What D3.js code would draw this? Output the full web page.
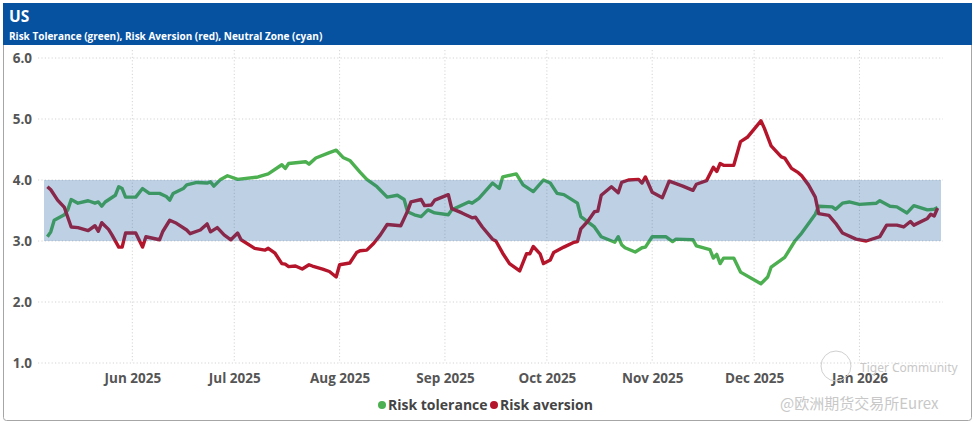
<!DOCTYPE html>
<html><head><meta charset="utf-8">
<script src="https://cdn.jsdelivr.net/npm/d3@7"></script>
<style>body{margin:0;background:#fff}svg{display:block}</style>
</head><body>
<svg id="chart" width="975" height="424"></svg>
<script>
const title = "US";
const subtitle = "Risk Tolerance (green), Risk Aversion (red), Neutral Zone (cyan)";
const seriesNames = ["Risk tolerance", "Risk aversion"];
const neutralZone = [3.0, 4.0];
const yTicks = [1, 2, 3, 4, 5, 6];
const xTicks = ["2025-06-01","2025-07-01","2025-08-01","2025-09-01","2025-10-01","2025-11-01","2025-12-01","2026-01-01"];
const xDomain = ["2025-05-06", "2026-01-25"];

const riskTolerance = [
["2025-05-07",3.07],["2025-05-08",3.15],["2025-05-09",3.34],["2025-05-12",3.43],["2025-05-13",3.51],
["2025-05-14",3.68],["2025-05-16",3.62],["2025-05-19",3.66],["2025-05-21",3.62],["2025-05-22",3.64],
["2025-05-23",3.57],["2025-05-24",3.64],["2025-05-27",3.75],["2025-05-28",3.89],["2025-05-29",3.86],
["2025-05-30",3.72],["2025-06-02",3.72],["2025-06-04",3.86],["2025-06-06",3.78],["2025-06-09",3.78],
["2025-06-11",3.73],["2025-06-12",3.67],["2025-06-13",3.78],["2025-06-16",3.86],["2025-06-17",3.92],
["2025-06-20",3.96],["2025-06-23",3.95],["2025-06-24",3.97],["2025-06-25",3.90],["2025-06-27",4.01],
["2025-06-29",4.07],["2025-07-02",4.01],["2025-07-08",4.05],["2025-07-11",4.10],["2025-07-15",4.25],
["2025-07-16",4.19],["2025-07-17",4.27],["2025-07-22",4.30],["2025-07-23",4.26],["2025-07-25",4.36],
["2025-07-29",4.45],["2025-07-31",4.49],["2025-08-02",4.37],["2025-08-04",4.32],["2025-08-07",4.13],
["2025-08-09",4.01],["2025-08-12",3.89],["2025-08-15",3.72],["2025-08-18",3.75],["2025-08-20",3.68],
["2025-08-21",3.48],["2025-08-23",3.43],["2025-08-25",3.40],["2025-08-27",3.51],["2025-08-29",3.46],
["2025-09-02",3.43],["2025-09-03",3.51],["2025-09-08",3.64],["2025-09-09",3.62],["2025-09-11",3.70],
["2025-09-15",3.95],["2025-09-17",3.86],["2025-09-18",4.05],["2025-09-22",4.10],["2025-09-24",3.92],
["2025-09-27",3.81],["2025-09-30",4.00],["2025-10-02",3.95],["2025-10-04",3.78],["2025-10-06",3.76],
["2025-10-08",3.69],["2025-10-10",3.62],["2025-10-11",3.40],["2025-10-15",3.23],["2025-10-17",3.07],
["2025-10-21",2.98],["2025-10-22",3.07],["2025-10-23",2.94],["2025-10-24",2.89],["2025-10-27",2.82],
["2025-10-29",2.89],["2025-10-30",2.90],["2025-11-01",3.07],["2025-11-05",3.07],["2025-11-07",2.99],
["2025-11-08",3.03],["2025-11-13",3.02],["2025-11-14",2.92],["2025-11-18",2.86],["2025-11-19",2.72],
["2025-11-20",2.78],["2025-11-21",2.63],["2025-11-22",2.72],["2025-11-25",2.72],["2025-11-27",2.49],
["2025-12-03",2.30],["2025-12-05",2.41],["2025-12-06",2.57],["2025-12-10",2.73],["2025-12-13",3.00],
["2025-12-15",3.13],["2025-12-19",3.44],["2025-12-20",3.57],["2025-12-24",3.56],["2025-12-25",3.52],
["2025-12-27",3.62],["2025-12-29",3.64],["2026-01-01",3.60],["2026-01-06",3.62],["2026-01-07",3.66],
["2026-01-10",3.57],["2026-01-12",3.56],["2026-01-15",3.46],["2026-01-17",3.58],["2026-01-21",3.51],
["2026-01-23",3.52],["2026-01-24",3.55]
];

const riskAversion = [
["2025-05-07",3.89],["2025-05-08",3.84],["2025-05-10",3.67],["2025-05-12",3.55],["2025-05-14",3.23],
["2025-05-16",3.22],["2025-05-19",3.17],["2025-05-21",3.25],["2025-05-22",3.16],["2025-05-23",3.30],
["2025-05-25",3.19],["2025-05-26",3.10],["2025-05-28",2.90],["2025-05-29",2.90],["2025-05-30",3.13],
["2025-06-02",3.13],["2025-06-04",2.90],["2025-06-05",3.07],["2025-06-09",3.02],["2025-06-10",3.16],
["2025-06-12",3.34],["2025-06-14",3.29],["2025-06-17",3.18],["2025-06-18",3.12],["2025-06-21",3.18],
["2025-06-23",3.28],["2025-06-24",3.15],["2025-06-26",3.22],["2025-06-28",3.10],["2025-06-30",3.02],
["2025-07-02",3.13],["2025-07-03",3.02],["2025-07-07",2.88],["2025-07-10",2.85],["2025-07-11",2.88],
["2025-07-13",2.80],["2025-07-15",2.63],["2025-07-16",2.62],["2025-07-17",2.58],["2025-07-19",2.59],
["2025-07-21",2.54],["2025-07-23",2.61],["2025-07-24",2.59],["2025-07-27",2.54],["2025-07-29",2.50],
["2025-07-31",2.41],["2025-08-01",2.61],["2025-08-04",2.64],["2025-08-06",2.81],["2025-08-07",2.84],
["2025-08-09",2.85],["2025-08-11",2.96],["2025-08-13",3.10],["2025-08-15",3.27],["2025-08-19",3.25],
["2025-08-21",3.49],["2025-08-22",3.64],["2025-08-25",3.68],["2025-08-26",3.58],["2025-08-28",3.59],
["2025-08-29",3.67],["2025-09-02",3.76],["2025-09-03",3.53],["2025-09-06",3.46],["2025-09-09",3.38],
["2025-09-10",3.39],["2025-09-12",3.23],["2025-09-15",3.03],["2025-09-16",3.00],["2025-09-18",2.80],
["2025-09-20",2.63],["2025-09-23",2.51],["2025-09-25",2.79],["2025-09-26",2.79],["2025-09-27",2.91],
["2025-09-29",2.79],["2025-09-30",2.63],["2025-10-02",2.69],["2025-10-03",2.81],["2025-10-06",2.90],
["2025-10-09",2.98],["2025-10-10",2.99],["2025-10-11",3.20],["2025-10-13",3.32],["2025-10-15",3.48],
["2025-10-16",3.49],["2025-10-17",3.75],["2025-10-20",3.89],["2025-10-22",3.79],["2025-10-23",3.96],
["2025-10-25",4.00],["2025-10-28",4.01],["2025-10-29",3.95],["2025-10-30",4.05],["2025-11-01",3.80],
["2025-11-04",3.71],["2025-11-06",3.98],["2025-11-10",3.90],["2025-11-13",3.83],["2025-11-14",3.93],
["2025-11-17",3.99],["2025-11-19",4.21],["2025-11-20",4.14],["2025-11-21",4.27],["2025-11-22",4.24],
["2025-11-25",4.24],["2025-11-27",4.63],["2025-11-29",4.70],["2025-12-03",4.97],["2025-12-04",4.85],
["2025-12-06",4.56],["2025-12-09",4.38],["2025-12-10",4.36],["2025-12-12",4.19],["2025-12-14",4.12],
["2025-12-15",4.07],["2025-12-17",3.92],["2025-12-19",3.72],["2025-12-20",3.45],["2025-12-23",3.42],
["2025-12-25",3.29],["2025-12-27",3.13],["2025-12-31",3.03],["2026-01-03",3.00],["2026-01-07",3.07],
["2026-01-09",3.26],["2026-01-12",3.26],["2026-01-14",3.23],["2026-01-16",3.32],["2026-01-17",3.26],
["2026-01-21",3.37],["2026-01-22",3.44],["2026-01-23",3.41],["2026-01-24",3.54]
];

const parse = d3.utcParse("%Y-%m-%d");
const svg = d3.select("#chart");
const fontFam = "'Open Sans','Noto Sans',sans-serif";

// frame
svg.append("rect").attr("x",3.5).attr("y",3.5).attr("width",968).attr("height",417)
  .attr("rx",3).attr("fill","#fff").attr("stroke","#a6a6a6").attr("stroke-width",1);
svg.append("rect").attr("x",3).attr("y",3).attr("width",969).attr("height",42).attr("fill","#0652a1");
svg.append("text").attr("x",9).attr("y",22).attr("fill","#fff").attr("font-family",fontFam)
  .attr("font-weight","bold").attr("font-size",15.5).text(title);
svg.append("text").attr("x",9).attr("y",40).attr("fill","#fff").attr("font-family",fontFam)
  .attr("font-weight","bold").attr("font-size",10).text(subtitle);

const x = d3.scaleUtc().domain(xDomain.map(parse)).range([44, 941]);
const y = d3.scaleLinear().domain([1, 6]).range([363, 58]);

// grid
const grid = svg.append("g");
grid.selectAll("line.h").data(yTicks).join("line").attr("class","h")
  .attr("x1",38).attr("x2",943).attr("y1",d=>y(d)).attr("y2",d=>y(d))
  .attr("stroke","#d4d4d4").attr("stroke-dasharray","1.2,2.2");
grid.selectAll("line.v").data(xTicks.map(parse)).join("line").attr("class","v")
  .attr("x1",d=>x(d)).attr("x2",d=>x(d)).attr("y1",50).attr("y2",363)
  .attr("stroke","#d4d4d4").attr("stroke-dasharray","1.2,2.2");

// axes
const yAxis = svg.append("g").attr("transform","translate(38,0)")
  .call(d3.axisLeft(y).tickValues(yTicks).tickFormat(d3.format(".1f")).tickSize(0).tickPadding(6));
const xAxis = svg.append("g").attr("transform","translate(0,366)")
  .call(d3.axisBottom(x).tickValues(xTicks.map(parse)).tickFormat(d3.utcFormat("%b %Y")).tickSize(0).tickPadding(7));
[yAxis, xAxis].forEach(g => {
  g.select(".domain").remove();
  g.selectAll("text").attr("font-family",fontFam).attr("font-weight","bold")
    .attr("font-size",13.5).attr("fill","#555");
});

// lines
const line = d3.line().x(d=>x(parse(d[0]))).y(d=>y(d[1])).curve(d3.curveLinear);
svg.append("path").datum(riskTolerance).attr("d",line).attr("fill","none")
  .attr("stroke","#4caf50").attr("stroke-width",3.4).attr("stroke-linejoin","round");
svg.append("path").datum(riskAversion).attr("d",line).attr("fill","none")
  .attr("stroke","#b5152b").attr("stroke-width",3.4).attr("stroke-linejoin","round");

// neutral zone band (over lines, translucent)
svg.append("rect").attr("x",x(parse(xDomain[0]))).attr("width",x(parse(xDomain[1]))-x(parse(xDomain[0])))
  .attr("y",y(neutralZone[1])).attr("height",y(neutralZone[0])-y(neutralZone[1]))
  .attr("fill","#145a9d").attr("fill-opacity",0.28);

// legend
const legendColors = ["#4caf50","#b5152b"];
const lg = svg.append("g").attr("font-family",fontFam).attr("font-weight","bold").attr("font-size",14).attr("fill","#444");
const legendX = [382, 494];
seriesNames.forEach((n,i)=>{
  lg.append("circle").attr("cx",legendX[i]).attr("cy",405).attr("r",4).attr("fill",legendColors[i]);
  lg.append("text").attr("x",legendX[i]+6).attr("y",410).text(n);
});

// watermark
const wm = svg.append("g").attr("fill","#c8c8c8").attr("font-family","'Noto Sans','Noto Sans CJK SC',sans-serif");
wm.append("circle").attr("cx",836).attr("cy",366).attr("r",15).attr("fill","none").attr("stroke","#d0d0d0").attr("stroke-width",1);
wm.append("text").attr("x",860).attr("y",372).attr("font-size",12).text("Tiger Community");
wm.append("text").attr("x",780).attr("y",409).attr("font-size",15).attr("font-family","'Noto Sans CJK SC','Noto Sans',sans-serif").text("@欧洲期货交易所Eurex");
</script>
</body></html>
